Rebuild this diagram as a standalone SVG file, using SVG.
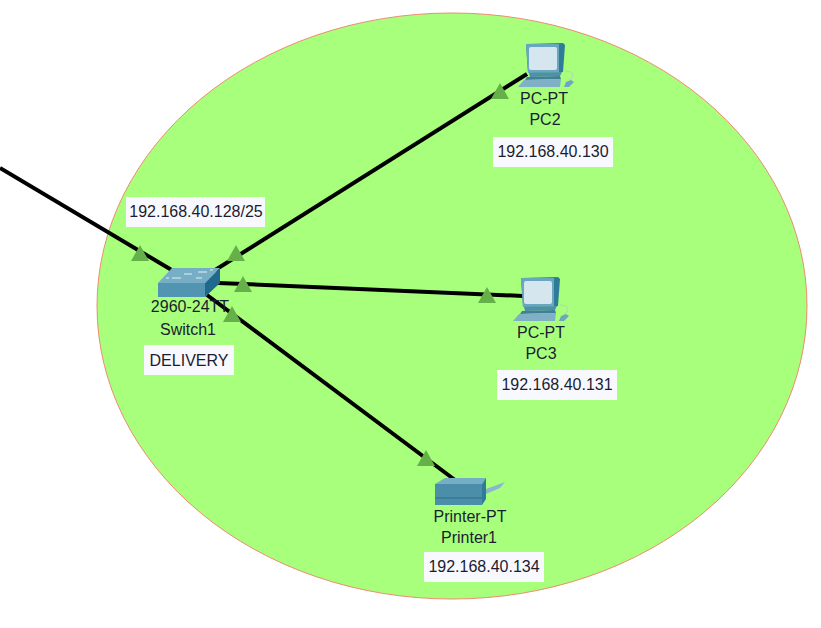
<svg xmlns="http://www.w3.org/2000/svg" width="821" height="628" viewBox="0 0 821 628">
<style>
text{font-family:"Liberation Sans",Arial,sans-serif;font-size:16px;fill:#1c1c30;text-anchor:middle}
.lbl{fill:#f8f9ff}
.link{stroke:#000;stroke-width:4;fill:none;stroke-linecap:butt}
.tri{fill:#66b04a}
</style>
<defs>
<g id="pc">
<path d="M1 1L38 0L40 2L38 29L3 30Z" fill="#2f7c99"/>
<path d="M1 1L34 1L34 29L3 30Z" fill="#6aa6bf"/>
<rect x="4" y="4" width="28" height="23" rx="2" fill="#d6e6ee"/>
<path d="M4 30L37 29L35 33L5 34Z" fill="#4f8fab"/>
<path d="M2 34L35 33L36 36L0 37Z" fill="#3f7f98"/>
<path d="M-1 37L36 36L35 44L-7 44Z" fill="#7fb0c6"/>
<path d="M41 39L46 37L49 39L44 44L39 44Z" fill="#6fa5be"/>
<path d="M44 37Q48 36 48 31Q46 28 40 28" fill="none" stroke="#b5d3c6" stroke-width="1"/>
</g>
<path id="tr" d="M0 -9L9 7L-9 7Z"/>
</defs>
<ellipse id="area" cx="452" cy="306" rx="355" ry="293" fill="#a8ff7c" stroke="#ee8c70" stroke-width="1"/>
<g id="connectors">
<path class="link" d="M0 168L175 272"/>
<path class="link" d="M212 272L527 74"/>
<path class="link" d="M218 283L523 296"/>
<path class="link" d="M207 295L455 480"/>
<use href="#tr" class="tri" x="140" y="254"/>
<use href="#tr" class="tri" x="236" y="254"/>
<use href="#tr" class="tri" x="243" y="285"/>
<use href="#tr" class="tri" x="232" y="315"/>
<use href="#tr" class="tri" x="500" y="92"/>
<use href="#tr" class="tri" x="487" y="296"/>
<use href="#tr" class="tri" x="426" y="459"/>
</g>
<g id="subnet-label">
<rect class="lbl" x="126" y="197" width="139" height="30"/>
<text x="196" y="217">192.168.40.128/25</text>
</g>
<g id="switch1">
<path d="M158 283L172 268L220 268L205 283Z" fill="#76aec5"/>
<path d="M205 283L220 268L220 283L205 297Z" fill="#1f6a8c"/>
<rect x="158" y="283" width="47" height="14" fill="#5295b2"/>
<path d="M172 278h9M198 272h9M184 274h8M196 278h6M166 278h3M210 270h3" stroke="#e4f0f4" stroke-width="1.2"/>
<text x="190" y="312">2960-24TT</text>
<text x="188" y="335">Switch1</text>
<rect class="lbl" x="144" y="345" width="90" height="30"/>
<text x="189" y="366">DELIVERY</text>
</g>
<g id="pc2">
<use href="#pc" x="525" y="43"/>
<text x="544" y="104">PC-PT</text>
<text x="545" y="125">PC2</text>
<rect class="lbl" x="493" y="137" width="120" height="30"/>
<text x="553" y="157">192.168.40.130</text>
</g>
<g id="pc3">
<use href="#pc" x="520" y="277"/>
<text x="541" y="338">PC-PT</text>
<text x="541" y="359">PC3</text>
<rect class="lbl" x="497" y="370" width="120" height="30"/>
<text x="557" y="390">192.168.40.131</text>
</g>
<g id="printer1">
<path d="M435 484L445 478L486 478L482 484Z" fill="#76aec5"/>
<rect x="435" y="484" width="47" height="21" fill="#4a8eaa"/>
<path d="M482 484L486 478L486 499L482 505Z" fill="#2f7c99"/>
<path d="M435 498H482" stroke="#2f6f8a" stroke-width="1"/>
<path d="M486 489L505 482L500 488L486 494Z" fill="#8ab8ca"/>
<text x="470" y="522">Printer-PT</text>
<text x="469" y="543">Printer1</text>
<rect class="lbl" x="424" y="552" width="120" height="30"/>
<text x="484" y="572">192.168.40.134</text>
</g>
</svg>
